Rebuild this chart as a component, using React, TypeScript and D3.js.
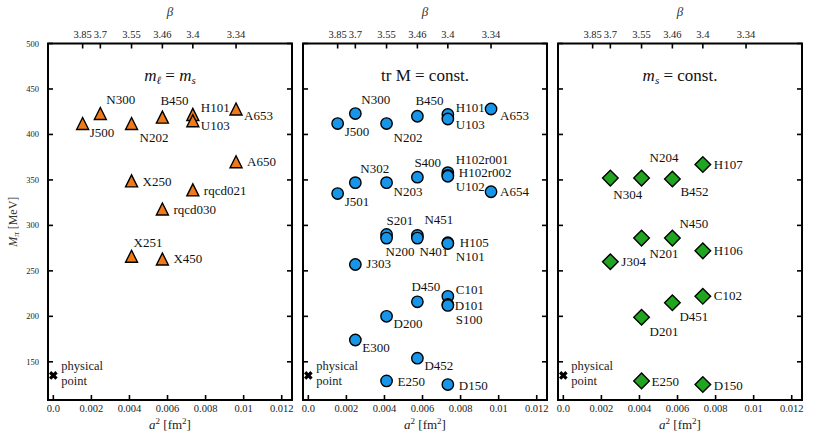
import React from 'react';
import * as d3 from 'd3';

// ---------- data ----------
const BETA_TICKS = ['3.85', '3.7', '3.55', '3.46', '3.4', '3.34'];
const BETA_VALUES = [3.85, 3.7, 3.55, 3.46, 3.4, 3.34];
const A2_AT_BETA = [0.00154, 0.00247, 0.00411, 0.00573, 0.00733, 0.0096];
const A2_TICKS = [0, 0.002, 0.004, 0.006, 0.008, 0.01, 0.012];
const A2_TICK_LABELS = ['0.0', '0.002', '0.004', '0.006', '0.008', '0.01', '0.012'];
const MPI_TICKS = [150, 200, 250, 300, 350, 400, 450, 500];
const PHYS_A2 = 0;
const PHYS_MPI = 135;

const SYM_NAMES = ['J500', 'N300', 'N202', 'B450', 'H101', 'U103', 'A653', 'A650', 'X250', 'rqcd021', 'rqcd030', 'X251', 'X450'];
const SYM_BETA = [3.85, 3.7, 3.55, 3.46, 3.4, 3.4, 3.34, 3.34, 3.55, 3.4, 3.46, 3.55, 3.46];
const SYM_MPI = [412, 423, 412, 419, 422, 415, 428, 370, 349, 339, 318, 266, 263];

const TRM_NAMES = ['J500', 'N300', 'N202', 'B450', 'H101', 'U103', 'A653', 'J501', 'N302', 'N203', 'S400', 'H102r001', 'H102r002', 'U102', 'A654', 'S201', 'N200', 'N451', 'N401', 'H105', 'N101', 'J303', 'D450', 'C101', 'D101', 'S100', 'D200', 'E300', 'D452', 'E250', 'D150'];
const TRM_BETA = [3.85, 3.7, 3.55, 3.46, 3.4, 3.4, 3.34, 3.85, 3.7, 3.55, 3.46, 3.4, 3.4, 3.4, 3.34, 3.55, 3.55, 3.46, 3.46, 3.4, 3.4, 3.7, 3.46, 3.4, 3.4, 3.4, 3.55, 3.7, 3.46, 3.55, 3.4];
const TRM_MPI = [412, 423, 412, 420, 422, 417, 428, 335, 347, 347, 353, 358, 355, 354, 337, 290, 286, 289, 286, 281, 280, 257, 216, 222, 213, 212, 200, 174, 154, 129, 125];

const MS_NAMES = ['H107', 'N304', 'N204', 'B452', 'N450', 'N201', 'H106', 'J304', 'C102', 'D451', 'D201', 'E250', 'D150'];
const MS_BETA = [3.4, 3.7, 3.55, 3.46, 3.46, 3.55, 3.4, 3.7, 3.4, 3.46, 3.55, 3.55, 3.4];
const MS_MPI = [367, 352, 352, 351, 286, 286, 272, 260, 222, 215, 199, 129, 125];

// ---------- label placement (layout only) ----------
const SYM_LABEL_OFFSETS: Record<string, [number, number]> = {
  J500: [7, 13], N300: [6, -10], N202: [8, 18], B450: [-2, -12], H101: [8, -2], U103: [8, 9],
  A653: [8, 11], A650: [11, 4], X250: [11, 5], rqcd021: [11, 5], rqcd030: [11, 5], X251: [2, -9], X450: [11, 4],
};
const TRM_LABEL_OFFSETS: Record<string, [number, number]> = {
  J500: [7, 12], N300: [6, -10], N202: [7, 18], B450: [-2, -11], H101: [8, -2], U103: [8, 10], A653: [9, 11],
  J501: [7, 12], N302: [5, -10], N203: [7, 13], S400: [-3, -10], H102r001: [8, -9], H102r002: [11, 2], U102: [8, 15], A654: [9, 4],
  S201: [0, -9], N200: [-1, 18], N451: [7, -11], N401: [2, 18], H105: [12, 4], N101: [8, 17], J303: [11, 4],
  D450: [-6, -11], C101: [8, -2.5], D101: [7, 5.5], S100: [8, 19], D200: [7, 12], E300: [7, 12], D452: [7, 12], E250: [11, 5], D150: [11, 5],
};
const MS_LABEL_OFFSETS: Record<string, [number, number]> = {
  H107: [11, 5], N304: [3, 21], N204: [8, -16], B452: [8, 17], N450: [7, -10], N201: [8, 20], H106: [11, 4],
  J304: [11, 4], C102: [11, 4], D451: [7, 18], D201: [8, 19], E250: [10, 5], D150: [11, 5],
};

const FONT = '"Liberation Serif", "DejaVu Serif", serif';
const W = 814;
const H = 442;
const TOP = 43.5;
const BOTTOM = 400;
const PANELS_X: [number, number][] = [[48, 292], [303, 547], [558, 802]];

const betaToA2 = (b: number) => A2_AT_BETA[BETA_VALUES.indexOf(b)];

type Shape = 'triangle' | 'circle' | 'diamond';

function Marker({ shape, x, y, fill }: { shape: Shape; x: number; y: number; fill: string }) {
  if (shape === 'circle') return <circle cx={x} cy={y} r={5.7} fill={fill} stroke="#000" strokeWidth={1.4} />;
  if (shape === 'triangle') {
    const p = `M${x},${y - 6}L${x + 6},${y + 6}L${x - 6},${y + 6}Z`;
    return <path d={p} fill={fill} stroke="#000" strokeWidth={1.4} strokeLinejoin="miter" />;
  }
  const p = `M${x},${y - 7.8}L${x + 7.8},${y}L${x},${y + 7.8}L${x - 7.8},${y}Z`;
  return <path d={p} fill={fill} stroke="#000" strokeWidth={1.4} />;
}

function Title({ kind, x }: { kind: number; x: number }) {
  const y = 81;
  const common = { x, y, textAnchor: 'middle' as const, fontFamily: FONT, fontSize: 17, fill: '#111' };
  if (kind === 0)
    return (
      <text {...common}>
        <tspan fontStyle="italic">m</tspan>
        <tspan fontStyle="italic" fontSize={11} dy={3}>ℓ</tspan>
        <tspan dy={-3}> = </tspan>
        <tspan fontStyle="italic">m</tspan>
        <tspan fontStyle="italic" fontSize={11} dy={3}>s</tspan>
      </text>
    );
  if (kind === 1) return <text {...common}>tr M = const.</text>;
  return (
    <text {...common}>
      <tspan fontStyle="italic">m</tspan>
      <tspan fontStyle="italic" fontSize={11} dy={3}>s</tspan>
      <tspan dy={-3}> = const.</tspan>
    </text>
  );
}

function Panel({ idx, names, betas, mpis, offsets, shape, fill }: {
  idx: number; names: string[]; betas: number[]; mpis: number[];
  offsets: Record<string, [number, number]>; shape: Shape; fill: string;
}) {
  const [x0, x1] = PANELS_X[idx];
  const x = d3.scaleLinear().domain([-0.00028, 0.01254]).range([x0, x1]);
  const y = d3.scaleLinear().domain([108, 500]).range([BOTTOM, TOP]);
  const tickLen = 5;
  const cx = (x0 + x1) / 2;
  const px = x(PHYS_A2);
  const py = y(PHYS_MPI);
  return (
    <g>
      {A2_TICKS.map((t, i) => (
        <g key={'b' + i}>
          <line x1={x(t)} x2={x(t)} y1={BOTTOM} y2={BOTTOM - tickLen} stroke="#000" strokeWidth={1.6} />
          <text x={x(t)} y={412} textAnchor="middle" fontFamily={FONT} fontSize={10.5} fill="#222">{A2_TICK_LABELS[i]}</text>
        </g>
      ))}
      {A2_AT_BETA.map((t, i) => (
        <g key={'t' + i}>
          <line x1={x(t)} x2={x(t)} y1={TOP} y2={TOP + tickLen} stroke="#000" strokeWidth={1.6} />
          <text x={x(t)} y={38} textAnchor="middle" fontFamily={FONT} fontSize={10.5} fill="#222">{BETA_TICKS[i]}</text>
        </g>
      ))}
      {MPI_TICKS.map((t, i) => (
        <g key={'y' + i}>
          <line x1={x0} x2={x0 + tickLen} y1={y(t)} y2={y(t)} stroke="#000" strokeWidth={1.6} />
          <line x1={x1} x2={x1 - tickLen} y1={y(t)} y2={y(t)} stroke="#000" strokeWidth={1.6} />
          {idx === 0 && (
            <text x={x0 - 9} y={y(t) + 3} textAnchor="end" fontFamily={FONT} fontSize={8.5} fill="#222">{t}</text>
          )}
        </g>
      ))}
      <rect x={x0} y={TOP} width={x1 - x0} height={BOTTOM - TOP} fill="none" stroke="#000" strokeWidth={2} />
      <text x={cx} y={16} textAnchor="middle" fontFamily={FONT} fontSize={13} fontStyle="italic" fill="#333">β</text>
      <text x={cx} y={429} textAnchor="middle" fontFamily={FONT} fontSize={13} fill="#222">
        <tspan fontStyle="italic">a</tspan>
        <tspan fontSize={9} dy={-5}>2</tspan>
        <tspan dy={5}> [fm</tspan>
        <tspan fontSize={9} dy={-5}>2</tspan>
        <tspan dy={5}>]</tspan>
      </text>
      <Title kind={idx} x={cx} />
      <path
        d={`M${px - 3.2},${py - 3.2}L${px + 3.2},${py + 3.2}M${px - 3.2},${py + 3.2}L${px + 3.2},${py - 3.2}`}
        stroke="#000" strokeWidth={3.2} />
      <text x={px + 8} y={py - 5} fontFamily={FONT} fontSize={12.5} fill="#222">physical</text>
      <text x={px + 8} y={py + 10} fontFamily={FONT} fontSize={12.5} fill="#222">point</text>
      {names.map((n, i) => (
        <Marker key={'m' + i} shape={shape} x={x(betaToA2(betas[i]))} y={y(mpis[i])} fill={fill} />
      ))}
      {names.map((n, i) => {
        const [dx, dy] = offsets[n] || [8, 4];
        return (
          <text key={'l' + i} x={x(betaToA2(betas[i])) + dx} y={y(mpis[i]) + dy} fontFamily={FONT} fontSize={13} fill="#111">{n}</text>
        );
      })}
    </g>
  );
}

export default function App() {
  const yMid = (TOP + BOTTOM) / 2;
  return (
    <svg width={W} height={H} style={{ position: 'absolute', left: 0, top: 0, background: '#fff' }}>
      <Panel idx={0} names={SYM_NAMES} betas={SYM_BETA} mpis={SYM_MPI} offsets={SYM_LABEL_OFFSETS} shape="triangle" fill="#f07a1a" />
      <Panel idx={1} names={TRM_NAMES} betas={TRM_BETA} mpis={TRM_MPI} offsets={TRM_LABEL_OFFSETS} shape="circle" fill="#1795e8" />
      <Panel idx={2} names={MS_NAMES} betas={MS_BETA} mpis={MS_MPI} offsets={MS_LABEL_OFFSETS} shape="diamond" fill="#1fa51f" />
      <text transform={`translate(17,${yMid}) rotate(-90)`} textAnchor="middle" fontFamily={FONT} fontSize={12} fill="#333">
        <tspan fontStyle="italic">M</tspan>
        <tspan fontStyle="italic" fontSize={9} dy={2}>π</tspan>
        <tspan dy={-2}> [MeV]</tspan>
      </text>
    </svg>
  );
}
